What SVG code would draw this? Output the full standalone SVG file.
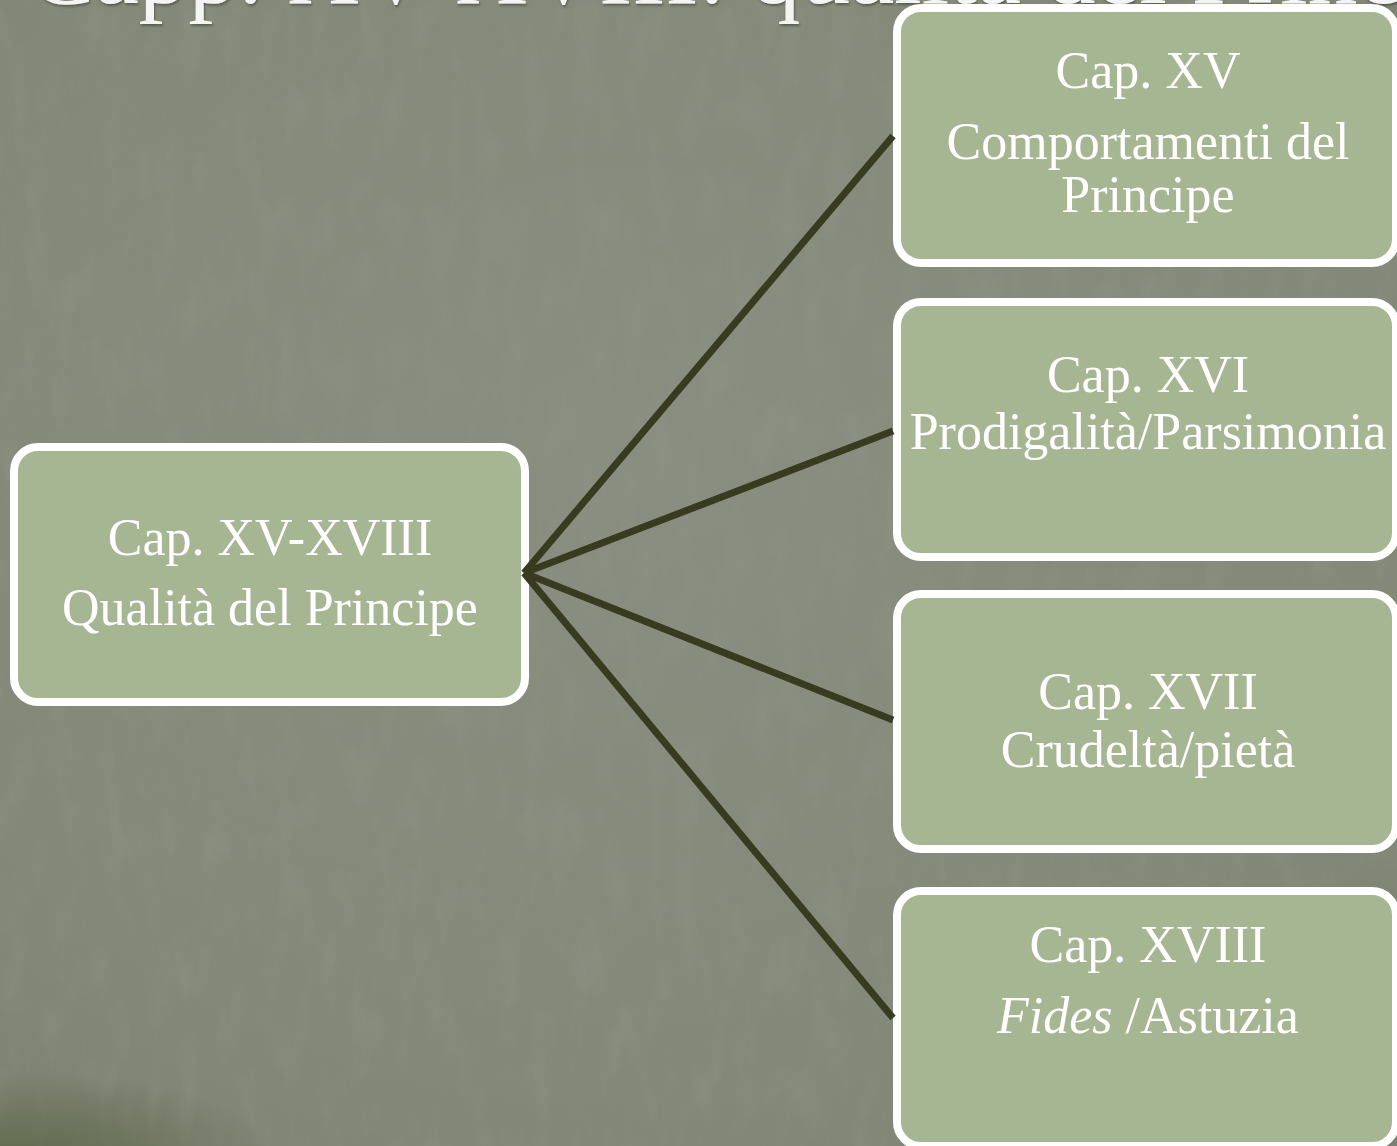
<svg xmlns="http://www.w3.org/2000/svg" width="1397" height="1146" viewBox="0 0 1397 1146">
  <defs>
    <radialGradient id="bg" cx="0.45" cy="0.4" r="0.8">
      <stop offset="0" stop-color="#8a8e80"/>
      <stop offset="0.7" stop-color="#848879"/>
      <stop offset="1" stop-color="#7b8070"/>
    </radialGradient>
    <radialGradient id="corner" cx="0.05" cy="1.05" r="0.5">
      <stop offset="0" stop-color="#56603f" stop-opacity="0.7"/>
      <stop offset="1" stop-color="#56603f" stop-opacity="0"/>
    </radialGradient>
    <filter id="noise" x="0" y="0" width="100%" height="100%">
      <feTurbulence type="fractalNoise" baseFrequency="0.04 0.015" numOctaves="3" seed="7" result="n"/>
      <feColorMatrix type="matrix" values="0 0 0 0 0.3  0 0 0 0 0.32  0 0 0 0 0.26  0 0 0 -2.4 1.3"/>
    </filter>
    <filter id="tshadow" x="-5%" y="-50%" width="110%" height="200%">
      <feDropShadow dx="1" dy="2" stdDeviation="1.2" flood-color="#3c3f34" flood-opacity="0.6"/>
    </filter>
    <style>
      .box { fill: #a6b592; stroke: #ffffff; stroke-width: 8; }
      .lbl { font-family: "Liberation Serif", "Times New Roman", serif; font-size: 52px; fill: #ffffff; text-anchor: middle; }
      .conn { stroke: #383b20; stroke-width: 7; fill: none; stroke-linecap: butt; }
      .title { font-family: "Liberation Serif", "Times New Roman", serif; font-size: 100px; fill: #f4f4f2; }
    </style>
  </defs>

  <rect x="0" y="0" width="1397" height="1146" fill="url(#bg)"/>
  <rect x="0" y="0" width="1397" height="1146" filter="url(#noise)" opacity="0.3"/>
  <rect x="0" y="980" width="500" height="166" fill="url(#corner)"/>

  <text class="title" x="28" y="3" textLength="1495" lengthAdjust="spacing" filter="url(#tshadow)">Capp. XV-XVIII: qualità del Principe</text>

  <g id="node-main">
    <rect class="box" x="14" y="447" width="511" height="255" rx="24"/>
    <text class="lbl" x="270" y="555">Cap. XV-XVIII</text>
    <text class="lbl" x="270" y="625">Qualità del Principe</text>
  </g>

  <g id="node-xv">
    <rect class="box" x="897" y="8" width="499" height="255" rx="24"/>
    <text class="lbl" x="1148" y="88">Cap. XV</text>
    <text class="lbl" x="1148" y="159">Comportamenti del</text>
    <text class="lbl" x="1148" y="212">Principe</text>
  </g>

  <g id="node-xvi">
    <rect class="box" x="897" y="302" width="499" height="255" rx="24"/>
    <text class="lbl" x="1148" y="392">Cap. XVI</text>
    <text class="lbl" x="1148" y="449">Prodigalità/Parsimonia</text>
  </g>

  <g id="node-xvii">
    <rect class="box" x="897" y="594" width="499" height="255" rx="24"/>
    <text class="lbl" x="1148" y="709">Cap. XVII</text>
    <text class="lbl" x="1148" y="767">Crudeltà/pietà</text>
  </g>

  <g id="node-xviii">
    <rect class="box" x="897" y="891" width="499" height="255" rx="24"/>
    <text class="lbl" x="1148" y="962">Cap. XVIII</text>
    <text class="lbl" x="1148" y="1033"><tspan font-style="italic">Fides</tspan> /Astuzia</text>
  </g>

  <g id="connectors">
    <line class="conn" x1="524" y1="573" x2="893" y2="136"/>
    <line class="conn" x1="524" y1="573" x2="893" y2="431"/>
    <line class="conn" x1="524" y1="573" x2="893" y2="720"/>
    <line class="conn" x1="524" y1="573" x2="893" y2="1018"/>
  </g>
</svg>
